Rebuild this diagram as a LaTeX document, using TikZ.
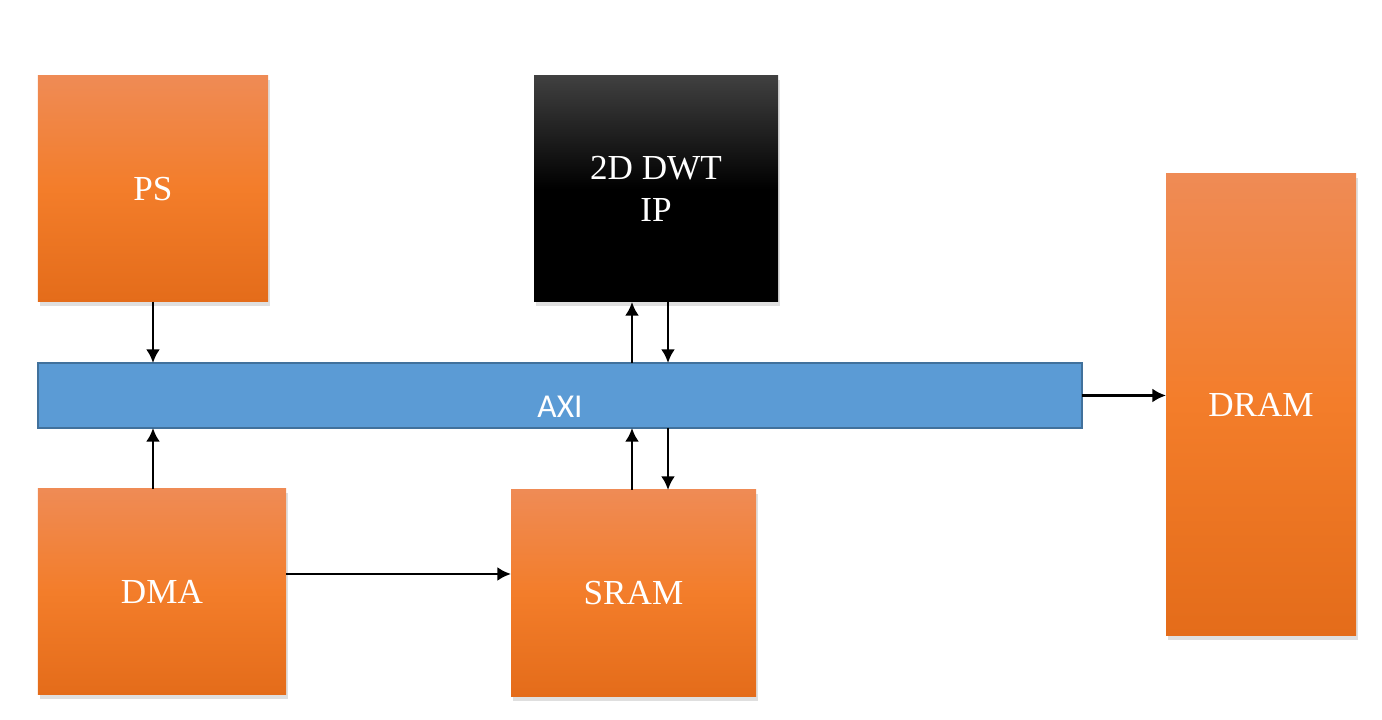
\documentclass[tikz,border=0pt]{standalone}
\usepackage{fontspec}
\setmainfont{Liberation Serif}
\newfontfamily\busfont{Carlito}
\usepackage{tikz}
\usetikzlibrary{positioning,arrows.meta,shadows}

\definecolor{orangetop}{RGB}{239,139,85}
\definecolor{orangemid}{RGB}{243,125,42}
\definecolor{orangebot}{RGB}{228,108,26}
\definecolor{axifill}{RGB}{91,155,213}
\definecolor{axiline}{RGB}{65,113,156}

\begin{document}
\begin{tikzpicture}[
  block/.style={inner sep=0pt, outer sep=0pt, align=center, text=white,
                font=\fontsize{10}{12}\selectfont,
                drop shadow={opacity=0.25, shadow xshift=0.6pt, shadow yshift=-1.2pt}},
  unit/.style={block, top color=orangetop, bottom color=orangebot,
               middle color=orangemid},
  ipcore/.style={block, top color={rgb,255:red,64;green,64;blue,64},
                 bottom color=black, middle color=black},
  bus/.style={draw=axiline, line width=0.5pt, fill=axifill, inner sep=0pt,
              outer sep=0pt, text=white, font=\busfont\fontsize{9.5}{11}\selectfont},
  link/.style={-{Latex[length=3.9pt,width=4pt]}, line width=0.75pt},
  >=latex
]
\useasboundingbox (0,0) rectangle (13.82,-7.2);

% Processing system and IP core
\node[unit, minimum width=2.30cm, minimum height=2.26cm] (ps) at (1.53,-1.89) {PS};
\node[ipcore, minimum width=2.44cm, minimum height=2.26cm] (dwt) at (6.56,-1.89) {2D DWT\\IP};

% Interconnect
\node[bus, minimum width=10.44cm, minimum height=0.65cm] (axi) at (5.60,-3.955) {\raisebox{-6.4pt}[0pt][0pt]{AXI}};

% Memories and DMA
\node[unit, minimum width=1.90cm, minimum height=4.62cm] (dram) at (12.61,-4.05) {DRAM};
\node[unit, minimum width=2.48cm, minimum height=2.06cm] (dma) at (1.62,-5.92) {DMA};
\node[unit, minimum width=2.45cm, minimum height=2.07cm] (sram) at (6.335,-5.935) {SRAM};

% Lanes for the paired arrows
\coordinate (rd) at (6.32,0);
\coordinate (wr) at (6.68,0);

% PS and DMA to AXI
\draw[link] (ps.south) -- (ps.south |- axi.north);
\draw[link] (dma.north -| ps) -- (ps |- axi.south);

% IP core <-> AXI
\draw[link] (rd |- axi.north) -- (rd |- dwt.south);
\draw[link] (wr |- dwt.south) -- (wr |- axi.north);

% SRAM <-> AXI
\draw[link] (rd |- sram.north) -- (rd |- axi.south);
\draw[link] (wr |- axi.south) -- (wr |- sram.north);

% AXI to DRAM, DMA to SRAM
\draw[link] (axi.east) -- (axi.east -| dram.west);
\draw[link] ([yshift=0.18cm]dma.east) -- ([yshift=0.18cm]dma.east -| sram.west);

\end{tikzpicture}
\end{document}
